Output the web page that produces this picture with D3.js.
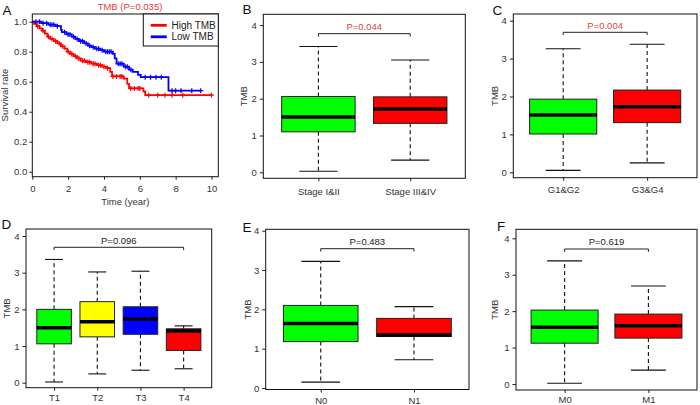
<!DOCTYPE html>
<html><head><meta charset="utf-8">
<script src="https://cdn.jsdelivr.net/npm/d3@7"></script>
<style>
body{margin:0;background:#fff}
svg{display:block;font-family:"Liberation Sans",Arial,Helvetica,sans-serif}
</style>
</head><body>
<svg id="chart" width="700" height="405"></svg>
<script>
// ---------------- DATA ----------------
// Panel A: Kaplan-Meier curves (step times and survival after each step)
const kmHighTimes = [0,0.1,0.25,0.4,0.55,0.7,0.85,1.0,1.2,1.4,1.6,1.8,1.95,2.1,2.3,2.5,2.7,3.0,3.3,3.6,3.9,4.15,4.35,4.45,5.1,5.3,5.4,6.2,6.3];
const kmHighSurv  = [1.0,0.985,0.97,0.955,0.94,0.92,0.90,0.885,0.87,0.855,0.835,0.82,0.80,0.785,0.77,0.755,0.74,0.73,0.72,0.71,0.70,0.69,0.665,0.635,0.62,0.585,0.555,0.535,0.51];
const kmHighEnd = 10.0;
const kmHighCensor = [0.3,0.6,0.9,1.1,1.3,1.5,1.7,2.0,2.2,2.4,2.6,2.8,2.9,3.1,3.2,3.4,3.5,3.7,3.8,4.0,4.2,4.5,4.7,4.9,5.0,5.5,5.7,5.9,6.0,6.5,7.0,7.4,7.8,8.4,10.0];
const kmLowTimes = [0,0.5,0.9,1.3,1.6,1.65,1.9,2.2,2.4,2.6,2.9,3.1,3.3,3.5,3.8,4.0,4.5,4.6,4.7,5.1,5.4,5.6,5.9,6.05,7.6];
const kmLowSurv  = [1.0,0.99,0.98,0.97,0.945,0.93,0.915,0.9,0.885,0.87,0.855,0.84,0.83,0.82,0.81,0.80,0.785,0.755,0.72,0.70,0.68,0.665,0.645,0.63,0.54];
const kmLowEnd = 9.4;
const kmLowCensor = [0.2,0.4,0.6,0.8,1.0,1.1,1.2,1.4,1.8,2.0,2.1,2.3,2.5,2.7,2.8,3.0,3.2,3.4,3.6,3.7,3.9,4.1,4.2,4.3,4.4,4.8,4.9,5.0,5.2,5.3,5.5,6.3,6.6,6.9,7.2,7.8,8.0,8.3,8.9,9.4];
const kmTicksX = [0,2,4,6,8,10];
const kmTicksY = [0,0.2,0.4,0.6,0.8,1.0];
const kmLegend = ["High TMB","Low TMB"];

// Box panels: [lowerWhisker, Q1, median, Q3, upperWhisker]
const boxTicks = [0,1,2,3,4];
const stageCats = ["Stage I&II","Stage III&IV"];
const stageStats = [[0.03,1.10,1.50,2.06,3.42],[0.33,1.33,1.72,2.05,3.05]];
const gradeCats = ["G1&G2","G3&G4"];
const gradeStats = [[0.05,1.01,1.51,1.93,3.26],[0.25,1.31,1.73,2.17,3.38]];
const tCats = ["T1","T2","T3","T4"];
const tStats = [[0.02,1.06,1.50,2.00,3.36],[0.24,1.25,1.66,2.21,3.02],[0.34,1.32,1.74,2.07,3.04],[0.38,0.88,1.41,1.47,1.55]];
const nCats = ["N0","N1"];
const nStats = [[0.15,1.18,1.64,2.10,3.22],[0.72,1.31,1.35,1.77,2.07]];
const mCats = ["M0","M1"];
const mStats = [[0.02,1.12,1.56,2.03,3.38],[0.38,1.26,1.60,1.92,2.69]];

// ---------------- DRAW ----------------
const svg = d3.select("#chart");
const TXT = "#333";
const FS = 9.5;

function letter(t, x, y){
  svg.append("text").attr("x",x).attr("y",y).attr("font-size",13.5).attr("fill","#111").text(t);
}

// ---- Panel A ----
(function(){
  const L=32.3,R=218.3,T=14,B=176.7;
  const x = d3.scaleLinear().domain([0,10.38]).range([L,R]);
  const y = d3.scaleLinear().domain([0,1]).range([171.7,21.7]);
  const g = svg.append("g");
  const ax = d3.axisBottom(x).tickValues(kmTicksX).tickSize(3).tickPadding(6).tickFormat(d3.format("d"));
  const ay = d3.axisLeft(y).tickValues(kmTicksY).tickSize(3).tickPadding(2).tickFormat(d3.format(".1f"));
  const gx = g.append("g").attr("transform",`translate(0,${B})`).call(ax);
  const gy = g.append("g").attr("transform",`translate(${L},0)`).call(ay);
  [gx,gy].forEach(a=>{a.select(".domain").remove();a.selectAll("line").attr("stroke","#222");a.selectAll("text").attr("font-size",FS).attr("fill",TXT).attr("font-family",null);});
  const curves = [
    {times:kmHighTimes,surv:kmHighSurv,end:kmHighEnd,cens:kmHighCensor,color:"#ff0000"},
    {times:kmLowTimes,surv:kmLowSurv,end:kmLowEnd,cens:kmLowCensor,color:"#0000ff"}
  ];
  const line = d3.line().x(d=>x(d[0])).y(d=>y(d[1])).curve(d3.curveStepAfter);
  curves.forEach(c=>{
    const pts = c.times.map((t,i)=>[t,c.surv[i]]);
    pts.push([c.end,c.surv[c.surv.length-1]]);
    g.append("path").attr("d",line(pts)).attr("fill","none").attr("stroke",c.color).attr("stroke-width",1.8);
    c.cens.forEach(t=>{
      const i = Math.max(0,d3.bisectRight(c.times,t)-1);
      const cx=x(t), cy=y(c.surv[i]);
      g.append("path").attr("d",`M${cx-2.5},${cy}H${cx+2.5}M${cx},${cy-2.5}V${cy+2.5}`).attr("stroke",c.color).attr("stroke-width",1.2);
    });
  });
  g.append("rect").attr("x",L).attr("y",T).attr("width",R-L).attr("height",B-T).attr("fill","none").attr("stroke","#111").attr("stroke-width",1);
  // legend
  g.append("rect").attr("x",143.3).attr("y",T).attr("width",R-143.3).attr("height",32).attr("fill","#fff").attr("stroke","#111").attr("stroke-width",1);
  [["#ff0000",25.3],["#0000ff",36.8]].forEach((d,i)=>{
    g.append("line").attr("x1",150.7).attr("x2",166.7).attr("y1",d[1]).attr("y2",d[1]).attr("stroke",d[0]).attr("stroke-width",2.8);
    g.append("text").attr("x",171.5).attr("y",d[1]+3.5).attr("font-size",10).attr("fill","#222").text(kmLegend[i]);
  });
  g.append("text").attr("x",130).attr("y",9.6).attr("text-anchor","middle").attr("font-size",FS).attr("fill","#e8403a").text("TMB (P=0.035)");
  g.append("text").attr("x",(L+R)/2).attr("y",205).attr("text-anchor","middle").attr("font-size",FS).attr("fill",TXT).text("Time (year)");
  g.append("text").attr("transform",`translate(5,95) rotate(-90)`).attr("dy","0.35em").attr("text-anchor","middle").attr("font-size",FS).attr("fill",TXT).text("Survival rate");
  letter("A",2.5,15.2);
})();

// ---- Box panels ----
function boxPanel(c){
  const g = svg.append("g");
  const x = d3.scalePoint().domain(c.cats).range([c.L,c.R]).padding(c.pad);
  const y = d3.scaleLinear().domain([0,4]).range([c.y0,c.y4]);
  const bw = 0.8*x.step(), cw = bw*0.52;
  const ax = d3.axisBottom(x).tickSize(3).tickPadding(c.xpad);
  const ay = d3.axisLeft(y).tickValues(boxTicks).tickSize(3.5).tickPadding(3).tickFormat(d3.format("d"));
  const gx = g.append("g").attr("transform",`translate(0,${c.B})`).call(ax);
  const gy = g.append("g").attr("transform",`translate(${c.L},0)`).call(ay);
  [gx,gy].forEach(a=>{a.select(".domain").remove();a.selectAll("line").attr("stroke","#222");a.selectAll("text").attr("font-size",FS).attr("fill",TXT).attr("font-family",null);});
  c.cats.forEach((cat,i)=>{
    const s = c.stats[i], cx = x(cat);
    g.append("line").attr("x1",cx).attr("x2",cx).attr("y1",y(s[3])).attr("y2",y(s[4])).attr("stroke","#111").attr("stroke-width",1.1).attr("stroke-dasharray","4,3");
    g.append("line").attr("x1",cx).attr("x2",cx).attr("y1",y(s[1])).attr("y2",y(s[0])).attr("stroke","#111").attr("stroke-width",1.1).attr("stroke-dasharray","4,3");
    [s[0],s[4]].forEach(v=>g.append("line").attr("x1",cx-cw/2).attr("x2",cx+cw/2).attr("y1",y(v)).attr("y2",y(v)).attr("stroke","#111").attr("stroke-width",1.1));
    g.append("rect").attr("x",cx-bw/2).attr("y",y(s[3])).attr("width",bw).attr("height",y(s[1])-y(s[3])).attr("fill",c.colors[i]).attr("stroke","#222").attr("stroke-width",1);
    g.append("line").attr("x1",cx-bw/2).attr("x2",cx+bw/2).attr("y1",y(s[2])).attr("y2",y(s[2])).attr("stroke","#000").attr("stroke-width",3.5);
  });
  g.append("rect").attr("x",c.L).attr("y",c.T).attr("width",c.R-c.L).attr("height",c.B-c.T).attr("fill","none").attr("stroke","#111").attr("stroke-width",1);
  const x1 = x(c.cats[0]), x2 = x(c.cats[c.cats.length-1]);
  g.append("path").attr("d",`M${x1},${c.by+2.8}V${c.by}H${x2}V${c.by+2.8}`).attr("fill","none").attr("stroke","#222").attr("stroke-width",1);
  g.append("text").attr("x",(x1+x2)/2).attr("y",c.by-3.6).attr("text-anchor","middle").attr("font-size",FS).attr("fill",c.pColor).text(c.p);
  g.append("text").attr("transform",`translate(${c.yl},${(c.T+c.B)/2}) rotate(-90)`).attr("dy","0.35em").attr("text-anchor","middle").attr("font-size",FS).attr("fill",TXT).text("TMB");
  letter(c.letter,c.lx,c.ly);
}

const G="#00ff00", RD="#ff0000", YL="#ffff00", BL="#0000ff";
boxPanel({letter:"B",lx:242.5,ly:13.6,cats:stageCats,stats:stageStats,colors:[G,RD],L:263.3,R:465.3,T:14.3,B:178.3,y0:172.3,y4:25.1,pad:0.6,xpad:6.5,by:33.7,p:"P=0.044",pColor:"#e8403a",yl:243.3});
boxPanel({letter:"C",lx:492.5,ly:15,cats:gradeCats,stats:gradeStats,colors:[G,RD],L:513.3,R:697,T:14,B:177.7,y0:172.3,y4:20.7,pad:0.594,xpad:6,by:32.3,p:"P=0.004",pColor:"#e8403a",yl:495});
boxPanel({letter:"D",lx:1.5,ly:229.3,cats:tCats,stats:tStats,colors:[G,YL,BL,RD],L:26,R:211.7,T:229,B:387.7,y0:382.7,y4:236,pad:0.65,xpad:3.6,by:247.3,p:"P=0.096",pColor:"#222",yl:7});
boxPanel({letter:"E",lx:242.5,ly:231.7,cats:nCats,stats:nStats,colors:[G,RD],L:265.7,R:469,T:229.3,B:389.5,y0:388,y4:230.7,pad:0.59,xpad:4.5,by:248.7,p:"P=0.483",pColor:"#222",yl:247.3});
boxPanel({letter:"F",lx:497,ly:230.7,cats:mCats,stats:mStats,colors:[G,RD],L:516,R:697,T:229.3,B:390,y0:384,y4:238.3,pad:0.58,xpad:3.3,by:249,p:"P=0.619",pColor:"#222",yl:495});
</script>
</body></html>
